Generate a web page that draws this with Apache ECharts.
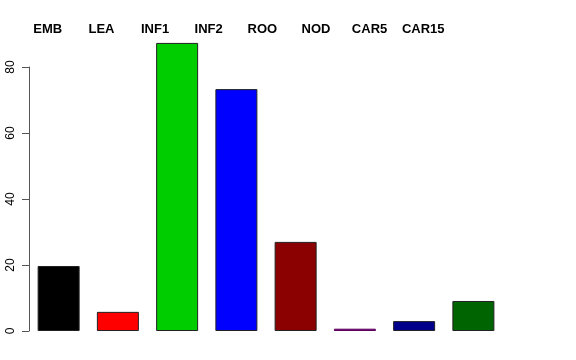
<!DOCTYPE html>
<html><head><meta charset="utf-8">
<script src="https://cdn.jsdelivr.net/npm/echarts@6/dist/echarts.min.js"></script>
<style>html,body{margin:0;padding:0;background:#fff}#c{width:576px;height:360px}</style>
</head><body><div id="c"></div>
<script>
var categories = ['EMB','LEA','INF1','INF2','ROO','NOD','CAR5','CAR15'];
var values = [19.7, 5.8, 87.3, 73.3, 27.0, 0.7, 3.0, 9.1];
var barColors = ['#000000','#FF0000','#00CD00','#0000FF','#8B0000','#8B008B','#00008B','#006400'];
var yTicks = [0, 20, 40, 60, 80];

var chart = echarts.init(document.getElementById('c'), null, {renderer:'canvas'});
var font = 'Liberation Sans, Arial, Helvetica, sans-serif';
chart.setOption({
  animation:false,
  grid:[
    {left:29, width:474, top:67, bottom:29},
    {left:29, width:474, top:40.6, bottom:29},
    {left:21, width:429, top:38, height:10}
  ],
  xAxis:[
    {gridIndex:0, type:'category', data:categories, show:false},
    {gridIndex:1, type:'category', data:categories, show:false},
    {gridIndex:2, type:'category', data:categories, position:'top',
     axisLine:{show:false}, axisTick:{show:false},
     axisLabel:{fontFamily:font, fontWeight:'bold', fontSize:13, color:'#000', margin:2, interval:0}}
  ],
  yAxis:[
    {gridIndex:0, type:'value', min:yTicks[0], max:yTicks[yTicks.length-1], interval:20,
     splitLine:{show:false},
     axisLine:{show:true, lineStyle:{color:'#555', width:1}},
     axisTick:{show:true, length:7, lineStyle:{color:'#555'}},
     axisLabel:{rotate:90, fontFamily:font, fontSize:12, color:'#000', margin:12}},
    {gridIndex:1, type:'value', min:0, max:88, show:false, splitLine:{show:false}},
    {gridIndex:2, type:'value', show:false}
  ],
  series:[{
    type:'bar', xAxisIndex:1, yAxisIndex:1, barWidth:42,
    data: values.map(function(v,i){
      return {value:v, itemStyle:{color:barColors[i], borderColor: i===5 ? '#5a005a' : '#222'}};
    }),
    itemStyle:{borderWidth:1}
  }]
});
</script></body></html>
